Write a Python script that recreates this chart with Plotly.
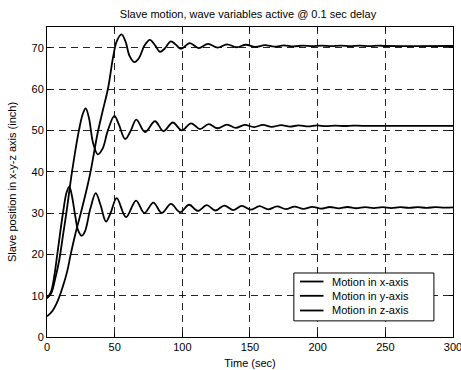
import plotly.graph_objects as go

# Motion in x-axis (starts at 5, rises to ~73 then settles ~70.4)
t_x = [0, 4, 8, 12, 15, 17.5, 21, 25, 29.8, 32.5, 37.2, 41, 45, 49, 51.5, 55, 58, 61, 64.5, 68, 72, 76, 80, 83.5, 87, 91.5, 95, 99, 105.5, 112, 119, 126, 133, 140, 147, 154, 161, 168, 175, 182, 189, 196, 203, 210, 217, 224, 231, 238, 245, 250, 300]
v_x = [5.0, 6.3, 8.8, 12.5, 16, 20, 25, 30, 36.4, 40.5, 49, 54.5, 60, 68, 71.5, 73.2, 71.5, 68, 66.5, 67.5, 70.5, 71.9, 70.5, 69.0, 69.8, 71.5, 70.8, 69.7, 71.1, 69.9, 70.9, 70.0, 70.8, 70.1, 70.7, 70.2, 70.6, 70.25, 70.55, 70.3, 70.5, 70.35, 70.5, 70.35, 70.5, 70.35, 70.5, 70.35, 70.5, 70.4, 70.4]

# Motion in y-axis (starts ~9.4, peaks ~55, settles ~51.1)
t_y = [0, 3, 6, 9, 12, 14.3, 18.5, 23.6, 26.5, 28.6, 31, 34, 37.5, 41, 45, 49.8, 53, 57.8, 62, 66, 72.4, 79.8, 86, 93, 99.5, 106.5, 113, 119.5, 126, 133, 139.5, 146, 153, 159.5, 166, 173, 179.5, 186, 193, 199.5, 206, 213, 220, 226, 233, 300]
v_y = [9.4, 10.5, 14, 18.5, 25, 30, 40, 50, 54, 55.3, 53, 47, 44.2, 45.5, 50, 53.5, 51.5, 47.9, 50, 52.6, 49.6, 52.2, 49.8, 51.9, 50.0, 51.7, 50.3, 51.5, 50.5, 51.4, 50.6, 51.3, 50.8, 51.3, 50.85, 51.25, 50.9, 51.2, 50.95, 51.2, 51.0, 51.15, 51.05, 51.15, 51.1, 51.1]

# Motion in z-axis (starts ~9.4, peaks ~36, settles ~31.3)
t_z = [0, 3, 5.5, 7.6, 11.8, 14.5, 16.5, 18.5, 21, 23, 25.6, 28, 32, 36, 39.5, 43.6, 47, 51.5, 58.4, 65.8, 71.9, 78.6, 84.8, 91.6, 98.3, 105, 111.5, 118, 124.5, 131, 137.5, 144, 150.5, 157, 163.5, 170, 176.5, 183, 189.5, 196, 202.5, 209, 215.5, 222, 228.5, 235, 241.5, 248, 254.5, 261, 267.5, 274, 280.5, 287, 293.5, 300]
v_z = [9.4, 11, 15, 20, 30, 35, 36.4, 34, 29, 25.8, 24.5, 25.5, 31, 34.8, 32, 27.9, 30, 33.6, 29.0, 33.0, 30.0, 32.5, 30.0, 32.2, 30.2, 32.0, 30.5, 31.9, 30.6, 31.8, 30.7, 31.7, 30.8, 31.65, 30.9, 31.6, 30.95, 31.55, 31.0, 31.5, 31.05, 31.45, 31.1, 31.45, 31.15, 31.4, 31.2, 31.4, 31.2, 31.4, 31.25, 31.4, 31.25, 31.4, 31.3, 31.35]

series_names = ["Motion in x-axis", "Motion in y-axis", "Motion in z-axis"]
x_ticks = [0, 50, 100, 150, 200, 250, 300]
y_ticks = [0, 10, 20, 30, 40, 50, 60, 70]

FONT = "Liberation Sans, Arial, sans-serif"
LW = 1.8

fig = go.Figure()
for name, t, v in zip(series_names, [t_x, t_y, t_z], [v_x, v_y, v_z]):
    fig.add_trace(go.Scatter(x=t, y=v, mode="lines", name=name, showlegend=False,
                             line=dict(color="black", width=LW, shape="spline", smoothing=1.0)))

axis_common = dict(showline=True, linecolor="black", linewidth=1, mirror="ticks",
                   ticks="inside", ticklen=4, tickcolor="black", automargin=False,
                   showgrid=True, gridcolor="rgba(0,0,0,0.85)", gridwidth=1,
                   griddash="7px,5px", zeroline=False, ticklabeloverflow="allow",
                   tickfont=dict(family=FONT, size=11, color="black"))

# custom legend box (paper coordinates of the plot area)
lx0, lx1, ly0, ly1 = 0.608, 0.953, 0.052, 0.2065
shapes = [dict(type="rect", xref="paper", yref="paper", x0=lx0, x1=lx1, y0=ly0, y1=ly1,
               line=dict(color="black", width=1), fillcolor="white", layer="above")]
annotations = []
row_y = [0.1790, 0.1329, 0.0855]
for name, ry in zip(series_names, row_y):
    shapes.append(dict(type="line", xref="paper", yref="paper", x0=0.623, x1=0.681, y0=ry, y1=ry,
                       line=dict(color="black", width=LW), layer="above"))
    annotations.append(dict(text=name, xref="paper", yref="paper", x=0.698, y=ry,
                            xanchor="left", yanchor="middle", showarrow=False,
                            font=dict(family=FONT, size=11, color="black")))

fig.update_layout(
    width=461, height=370,
    margin=dict(l=47, r=8, t=27, b=33),
    paper_bgcolor="white", plot_bgcolor="white",
    title=dict(text="Slave motion, wave variables active @ 0.1 sec delay",
               x=0.538, xanchor="center", y=0.962, yanchor="middle",
               font=dict(family=FONT, size=11, color="black")),
    xaxis=dict(range=[0, 300.01], tickvals=x_ticks,
               title=dict(text="Time (sec)", standoff=7,
                          font=dict(family=FONT, size=11, color="black")),
               **axis_common),
    yaxis=dict(range=[0, 75], tickvals=y_ticks,
               title=dict(text="Slave position in x-y-z axis (inch)", standoff=12,
                          font=dict(family=FONT, size=11, color="black")),
               **axis_common),
    shapes=shapes,
    annotations=annotations,
    showlegend=False,
)

fig.write_html("out.html")
